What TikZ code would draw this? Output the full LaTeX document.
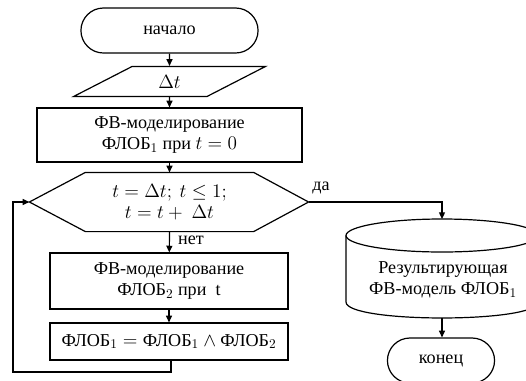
\documentclass[tikz,border=0pt]{standalone}
\usepackage{fontspec}
\setmainfont{Liberation Serif}
\usepackage{amsmath}
\usepackage{tikz}
\usetikzlibrary{shapes.geometric,shapes.misc,arrows.meta}
\tikzset{every picture/.style={line width=0.9pt}}
\tikzset{
  term/.style={draw, rounded rectangle, minimum width=139.5pt, minimum height=33.75pt},
  inbox/.style={draw, trapezium, trapezium left angle=42, trapezium right angle=138,
    trapezium stretches=true, minimum width=144pt, minimum height=22.5pt},
  proc/.style={draw, rectangle, align=center, inner sep=0pt},
  arr/.style={-{Triangle[length=5pt,width=4.5pt]}},
}

\begin{document}
\begin{tikzpicture}[x=0.75pt,y=-0.75pt,
  every node/.style={font=\fontsize{13.6}{15.4}\selectfont}]
\useasboundingbox (0,0) rectangle (526,380);
\clip (0,0) rectangle (526,380);
\node[term] (start) at (169.5,30.5) {начало};
\node[inbox] (dt) at (169.5,81.5) {$\Delta t$};
\node[proc, minimum width=198.75pt, minimum height=40.5pt] (model1) at (169.5,135)
  {ФВ-моделирование\\ ФЛОБ$_1$ при $t=0$};
%
\node[align=center, minimum width=125.25pt, minimum height=43.5pt, inner sep=0pt] (cond) at (169.5,202)
  {$t=\Delta t;\ t\le 1;$\\ $t=t+\ \Delta t$};
\draw (cond.north west) -- (cond.north east) -- ([xshift=41.25pt]cond.east)
  -- (cond.south east) -- (cond.south west) -- ([xshift=-42pt]cond.west) -- cycle;
\coordinate (condL) at ([xshift=-42pt]cond.west);
\coordinate (condR) at ([xshift=41.25pt]cond.east);
%
\node[proc, minimum width=178.5pt, minimum height=42pt] (model2) at (169,281)
  {ФВ-моделирование\\ ФЛОБ$_2$ при\ \ t};
\node[proc, minimum width=178.5pt, minimum height=27.75pt] (upd) at (169,341.5)
  {ФЛОБ$_1={}$ФЛОБ$_1\wedge{}$ФЛОБ$_2$};
\node (no) at (191,240) {нет};
\node (yes) at (321,188) {да};
%
% result store
\draw (442,235.5) ellipse [x radius=96, y radius=16.5];
\draw (346,235.5) -- (346,302) .. controls (346,323.3) and (538,323.3) .. (538,302) -- (538,235.5);
\node[align=center] (res) at (443,280) {Результирующая\\ ФВ-модель ФЛОБ$_1$};
\coordinate (restop) at (442,219);
\coordinate (resbot) at (442,318);
\node[term, minimum width=87pt] (stop) at (441,360.5) {конец};
%
\draw[arr] (start) -- (dt);
\draw[arr] (dt) -- (model1);
\draw[arr] (model1) -- (cond.north);
\draw[arr] (cond.south) -- (model2);
\draw[arr] (model2) -- (upd);
\coordinate (loopc) at (13,372);
\draw[arr] ([xshift=1.5pt]upd.south) |- (loopc) |- (condL);
\draw[arr] (condR) -| (restop);
\draw[arr] (resbot) -- (resbot |- stop.north);
\end{tikzpicture}
\end{document}
